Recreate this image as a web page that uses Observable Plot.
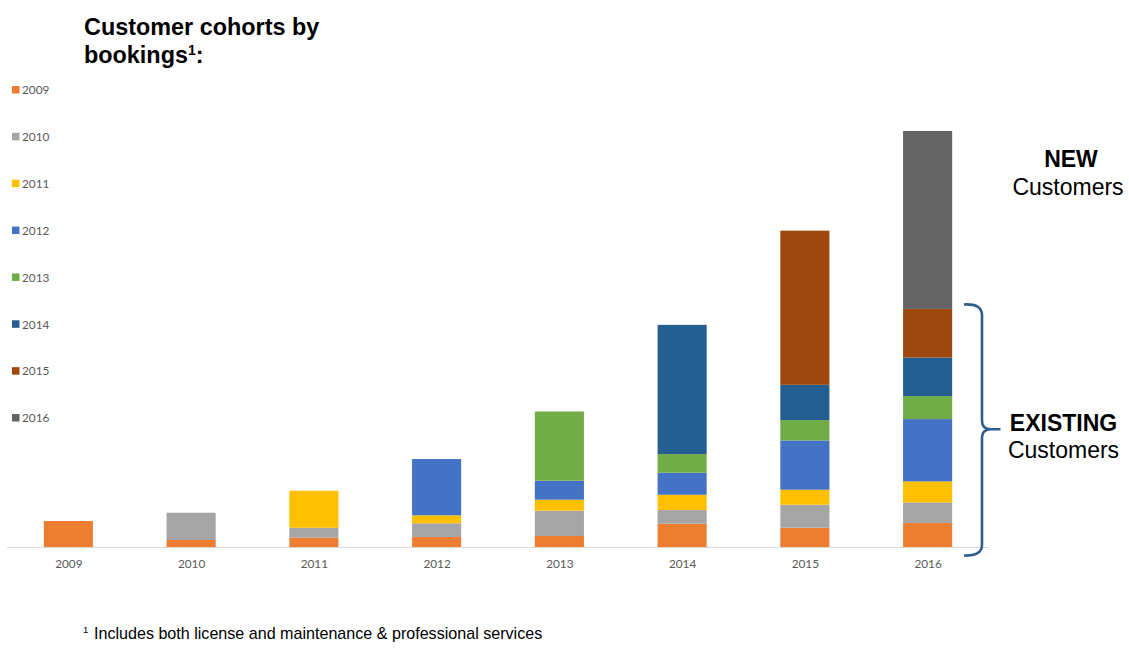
<!DOCTYPE html>
<html>
<head>
<meta charset="utf-8">
<script src="https://cdn.jsdelivr.net/npm/d3@7"></script>
<script src="https://cdn.jsdelivr.net/npm/@observablehq/plot@0.6"></script>
<style>
  html, body { margin: 0; padding: 0; background: #fff; }
  #chart { position: relative; width: 1129px; height: 648px; }
</style>
</head>
<body>
<div id="chart"></div>
<script>
// Bookings years (x axis)
const years = ["2009", "2010", "2011", "2012", "2013", "2014", "2015", "2016"];
// Customer cohorts (stack order, bottom to top)
const cohorts = ["2009", "2010", "2011", "2012", "2013", "2014", "2015", "2016"];
const cohortColors = ["#ED7D31", "#A5A5A5", "#FFC000", "#4472C4", "#70AD47", "#255E91", "#9E480E", "#636363"];

// Bookings per cohort for each year (estimated, arbitrary units; no axis in source)
const cohort2009 = [26.0, 7.0, 9.3, 10.0, 11.0, 23.3, 19.3, 24.0];
const cohort2010 = [0, 27.3, 10.0, 13.7, 25.3, 13.7, 23.0, 20.6];
const cohort2011 = [0, 0, 37.0, 8.0, 11.0, 15.3, 15.0, 21.0];
const cohort2012 = [0, 0, 0, 56.3, 19.0, 22.0, 49.3, 62.4];
const cohort2013 = [0, 0, 0, 0, 69.3, 18.7, 20.4, 23.0];
const cohort2014 = [0, 0, 0, 0, 0, 129.3, 35.3, 38.6];
const cohort2015 = [0, 0, 0, 0, 0, 0, 154.3, 48.7];
const cohort2016 = [0, 0, 0, 0, 0, 0, 0, 178.0];

const series = [cohort2009, cohort2010, cohort2011, cohort2012, cohort2013, cohort2014, cohort2015, cohort2016];
const data = [];
cohorts.forEach((c, i) => {
  years.forEach((y, j) => {
    if (series[i][j] > 0) data.push({ year: y, cohort: c, value: series[i][j] });
  });
});
const maxTotal = d3.max(years.map((y, j) => d3.sum(series, s => s[j])));

const chart = Plot.plot({
  width: 1129,
  height: 648,
  marginLeft: 7,
  marginRight: 140,
  marginTop: 131,
  marginBottom: 101,
  style: { fontFamily: "Lato, 'Open Sans', sans-serif", fontSize: "11.8px", color: "#595959", background: "#fff" },
  x: { domain: years, paddingInner: 0.6, paddingOuter: 0.3, round: false, label: null, tickSize: 0, tickPadding: 12 },
  y: { domain: [0, maxTotal], axis: null },
  color: { domain: cohorts, range: cohortColors },
  marks: [
    Plot.ruleY([0], { stroke: "#D9D9D9", strokeWidth: 1 }),
    Plot.barY(data, { x: "year", y: "value", fill: "cohort", order: null })
  ]
});

const svg = d3.select(chart);
const color = chart.scale("color");

// Title
const title = svg.append("text")
  .attr("text-anchor", "start")
  .attr("font-family", "'Liberation Sans', Arial, sans-serif")
  .attr("font-weight", "bold")
  .attr("font-size", 23.4)
  .attr("fill", "#000");
title.append("tspan").attr("x", 84).attr("y", 35).text("Customer cohorts by");
title.append("tspan").attr("x", 84).attr("y", 63).text("bookings");
title.append("tspan").attr("dy", -8).attr("font-size", 14).text("1");
title.append("tspan").attr("dy", 8).text(":");

// Legend (left)
const leg = svg.append("g").attr("text-anchor", "start");
cohorts.forEach((c, i) => {
  const by = 94.3 + i * 46.86;
  leg.append("rect").attr("x", 12).attr("y", by - 8.3).attr("width", 7.5).attr("height", 7.5).attr("fill", color.apply(c));
  leg.append("text").attr("x", 22).attr("y", by)
    .attr("font-family", "Lato, 'Open Sans', sans-serif").attr("font-size", 11.8).attr("fill", "#595959").text(c);
});

// Annotations
const ann = svg.append("g").attr("font-family", "'Liberation Sans', Arial, sans-serif").attr("font-size", 23).attr("fill", "#000").attr("text-anchor", "middle");
ann.append("text").attr("x", 1071).attr("y", 166.7).attr("font-weight", "bold").text("NEW");
ann.append("text").attr("x", 1068).attr("y", 195).text("Customers");
ann.append("text").attr("x", 1063.5).attr("y", 430.7).attr("font-weight", "bold").text("EXISTING");
ann.append("text").attr("x", 1063.5).attr("y", 458).text("Customers");

// Brace
svg.append("path")
  .attr("d", "M964,304.5 Q982,303.5 982,315 L982,421 Q982,429.3 991,429.3 L1000.5,429.3 M991,429.3 Q982,429.3 982,437.5 L982,545 Q982,556 964,555.5")
  .attr("fill", "none").attr("stroke", "#2E5E8E").attr("stroke-width", 2.6).attr("stroke-linecap", "butt");

// Footnote
const fn = svg.append("text").attr("text-anchor", "start")
  .attr("font-family", "'Liberation Sans', Arial, sans-serif").attr("font-size", 16.1).attr("fill", "#000");
fn.append("tspan").attr("x", 83).attr("y", 633).attr("font-size", 9.5).text("1");
fn.append("tspan").attr("x", 94).attr("y", 639).text("Includes both license and maintenance & professional services");

document.getElementById("chart").appendChild(chart);
</script>
</body>
</html>
